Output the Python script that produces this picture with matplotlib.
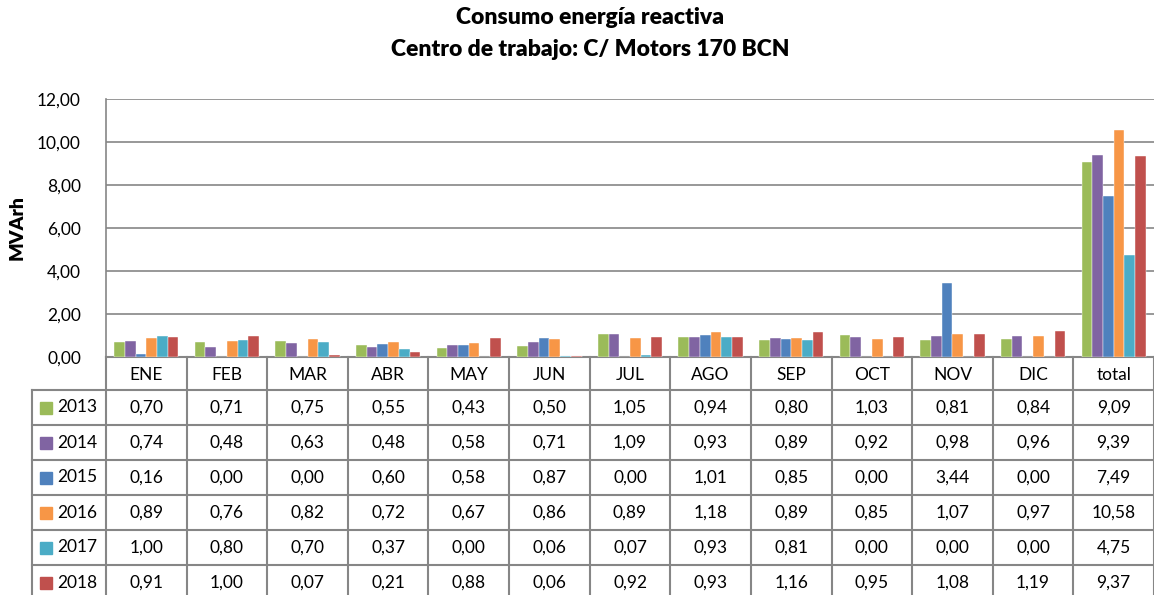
import numpy as np
import matplotlib.pyplot as plt
import matplotlib.transforms as mtransforms

plt.rcParams['font.family'] = ['Lato', 'DejaVu Sans']

months = ["ENE", "FEB", "MAR", "ABR", "MAY", "JUN", "JUL", "AGO", "SEP", "OCT", "NOV", "DIC", "total"]
years = ["2013", "2014", "2015", "2016", "2017", "2018"]

v2013 = [0.70, 0.71, 0.75, 0.55, 0.43, 0.50, 1.05, 0.94, 0.80, 1.03, 0.81, 0.84, 9.09]
v2014 = [0.74, 0.48, 0.63, 0.48, 0.58, 0.71, 1.09, 0.93, 0.89, 0.92, 0.98, 0.96, 9.39]
v2015 = [0.16, 0.00, 0.00, 0.60, 0.58, 0.87, 0.00, 1.01, 0.85, 0.00, 3.44, 0.00, 7.49]
v2016 = [0.89, 0.76, 0.82, 0.72, 0.67, 0.86, 0.89, 1.18, 0.89, 0.85, 1.07, 0.97, 10.58]
v2017 = [1.00, 0.80, 0.70, 0.37, 0.00, 0.06, 0.07, 0.93, 0.81, 0.00, 0.00, 0.00, 4.75]
v2018 = [0.91, 1.00, 0.07, 0.21, 0.88, 0.06, 0.92, 0.93, 1.16, 0.95, 1.08, 1.19, 9.37]

series = [v2013, v2014, v2015, v2016, v2017, v2018]
colors = ["#9BBB59", "#8064A2", "#4F81BD", "#F79646", "#4BACC6", "#C0504D"]

W, H = 1154, 595
fig = plt.figure(figsize=(W / 100, H / 100), dpi=100)

# plot area in pixels
x0, x1 = 106, 1154
ytop, ybot = 99, 357
ax = fig.add_axes([x0 / W, 1 - ybot / H, (x1 - x0) / W, (ybot - ytop) / H])

grid_c = "#868686"
n = len(months)
x = np.arange(n)
bw = 0.133
for i, vals in enumerate(series):
    ax.bar(x + (i - 2.5) * bw, vals, width=bw, color=colors[i], zorder=3,
           edgecolor="white", linewidth=0.3)

ax.set_xlim(-0.5, n - 0.5)
ax.set_ylim(0, 12)
ax.set_yticks(np.arange(0, 13, 2))
ax.set_yticklabels([f"{t:.2f}".replace(".", ",") for t in np.arange(0, 13, 2)], fontsize=12.5)
ax.tick_params(axis="y", length=0, pad=18)
ax.set_xticks([])
ax.yaxis.grid(True, color=grid_c, linewidth=1.2, zorder=0)
for s in ["top", "right", "bottom"]:
    ax.spines[s].set_visible(False)
ax.spines["left"].set_color(grid_c)
ax.spines["left"].set_linewidth(1.2)
ax.set_ylabel("MVArh", fontsize=14, fontweight="heavy")
ax.yaxis.set_label_coords(-80 / (x1 - x0), 0.5)

fig.text(590 / W, 1 - 18 / H, "Consumo energía reactiva", ha="center", va="center",
         fontsize=16.5, fontweight="heavy")
fig.text(590 / W, 1 - 50 / H, "Centro de trabajo: C/ Motors 170 BCN", ha="center", va="center",
         fontsize=16.5, fontweight="heavy")

# data table under the chart
tr = mtransforms.blended_transform_factory(ax.transData, fig.transFigure)
unit = (x1 - x0) / n
leg_left = -0.5 - (x0 - 32) / unit


def fy(py):
    return 1 - py / H


row_top = 390
row_h = 35
lw = 1.5
# horizontal lines
for r in range(len(years) + 1):
    yy = row_top + r * row_h
    ax.plot([leg_left, n - 0.5], [fy(yy), fy(yy)], transform=tr, color=grid_c,
            lw=lw, clip_on=False)
ax.plot([-0.5, n - 0.5], [fy(ybot), fy(ybot)], transform=tr, color=grid_c, lw=lw, clip_on=False)
# vertical lines
for k in range(n + 1):
    xx = -0.5 + k
    ax.plot([xx, xx], [fy(ybot), fy(H + 5)], transform=tr, color=grid_c, lw=lw, clip_on=False)
ax.plot([leg_left, leg_left], [fy(row_top), fy(H + 5)], transform=tr, color=grid_c,
        lw=lw, clip_on=False)

# header
for k, m in enumerate(months):
    ax.text(k, fy((ybot + row_top) / 2 + 1), m, transform=tr, ha="center", va="center",
            fontsize=12.5)

# rows
for r, (yr, vals) in enumerate(zip(years, series)):
    cy = row_top + r * row_h + row_h / 2
    sq_x = leg_left + 8 / unit
    ax.add_patch(plt.Rectangle((sq_x, fy(cy + 6)), 12 / unit, 12 / H, transform=tr,
                               color=colors[r], clip_on=False))
    ax.text(leg_left + 25 / unit, fy(cy), yr, transform=tr, ha="left", va="center",
            fontsize=12.5)
    for k, v in enumerate(vals):
        ax.text(k, fy(cy), f"{v:.2f}".replace(".", ","), transform=tr, ha="center",
                va="center", fontsize=12.5)

fig.savefig("out.png", dpi=100)
